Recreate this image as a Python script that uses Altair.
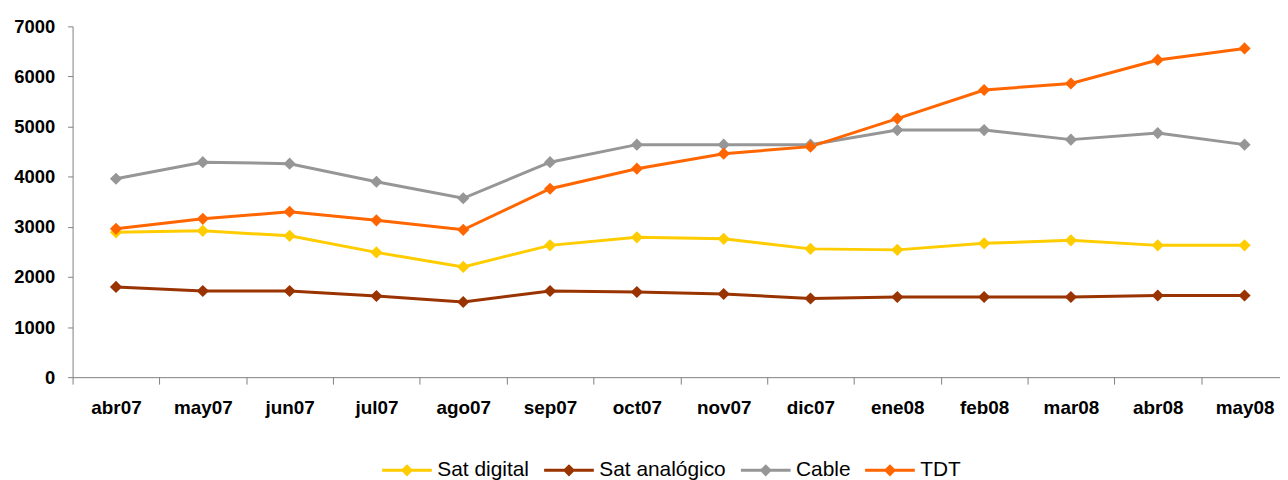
import altair as alt
import pandas as pd

months = ["abr07", "may07", "jun07", "jul07", "ago07", "sep07", "oct07",
          "nov07", "dic07", "ene08", "feb08", "mar08", "abr08", "may08"]
sat_digital = [2890, 2920, 2820, 2490, 2200, 2630, 2790, 2760, 2560, 2540, 2670, 2730, 2630, 2630]
sat_analogico = [1800, 1720, 1720, 1620, 1500, 1720, 1700, 1660, 1570, 1600, 1600, 1600, 1630, 1630]
cable = [3960, 4290, 4260, 3900, 3570, 4290, 4640, 4640, 4640, 4930, 4930, 4740, 4870, 4640]
tdt = [2960, 3160, 3300, 3130, 2940, 3760, 4160, 4460, 4600, 5160, 5730, 5860, 6330, 6560]

series_names = ["Sat digital", "Sat analógico", "Cable", "TDT"]
series_colors = ["#FFCC00", "#993300", "#969696", "#FF6600"]
y_ticks = [0, 1000, 2000, 3000, 4000, 5000, 6000, 7000]

rows = []
for name, vals in zip(series_names, [sat_digital, sat_analogico, cable, tdt]):
    for m, v in zip(months, vals):
        rows.append({"mes": m, "serie": name, "valor": v})
df = pd.DataFrame(rows)

FONT = "Liberation Sans"
AX = "#808080"

x = alt.X(
    "mes:N", sort=months,
    scale=alt.Scale(range=[0, 1223], paddingInner=0, paddingOuter=0),
    axis=alt.Axis(title=None, labelAngle=0, tickBand="extent", labelFont=FONT,
                  labelFontSize=19, labelFontWeight="bold", labelColor="black",
                  labelPadding=15, tickSize=7, tickColor=AX, domainColor=AX,
                  tickWidth=1, domainWidth=1),
)
y = alt.Y(
    "valor:Q",
    scale=alt.Scale(domain=[0, 7000], nice=False),
    axis=alt.Axis(title=None, values=y_ticks, format="d", grid=False, labelFont=FONT,
                  labelFontSize=18.5, labelFontWeight="bold", labelColor="black",
                  labelPadding=13, tickSize=5, tickColor=AX, domainColor=AX,
                  tickWidth=1, domainWidth=1),
)

color_scale = alt.Scale(domain=series_names, range=series_colors)

legend_path = ("M-1,0L1,0 "
               "M0,-0.16L0.16,0L0,0.16L-0.16,0Z "
               "M0,-0.09L0.09,0L0,0.09L-0.09,0Z "
               "M0,-0.03L0.03,0L0,0.03L-0.03,0Z")

legend = alt.Legend(
    title=None, orient="none", direction="horizontal",
    legendX=310, legendY=420, padding=0,
    symbolType=legend_path, symbolSize=2500, symbolStrokeWidth=3,
    labelFont=FONT, labelFontSize=21, labelColor="black",
    labelOffset=4, columnPadding=8,
)

color = alt.Color("serie:N", scale=color_scale, sort=series_names, legend=legend)

lines = alt.Chart(df).mark_line(strokeWidth=3).encode(x=x, y=y, color=color)

points = alt.Chart(df).mark_point(shape="diamond", filled=True, size=150, opacity=1).encode(
    x=x, y=y, color=color
)

chart = alt.layer(lines, points).properties(
    width=1215, height=353,
    autosize=alt.AutoSizeParams(type="none"),
    padding={"left": 65, "top": 17, "right": 0, "bottom": 102},
    background="white",
).configure_view(stroke=None)

chart.save("out.html", embed_options={"renderer": "svg", "actions": False})
